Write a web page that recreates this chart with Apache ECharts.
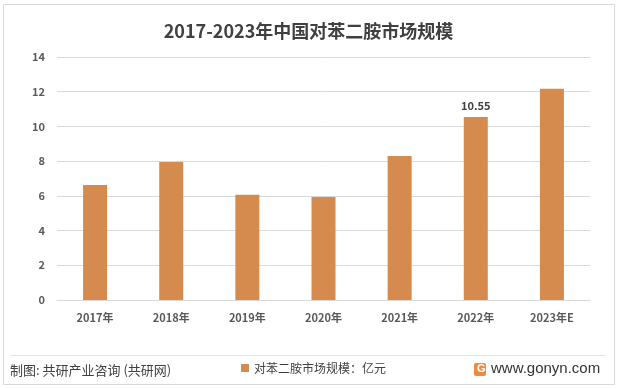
<!DOCTYPE html>
<html><head><meta charset="utf-8">
<script src="https://cdn.jsdelivr.net/npm/echarts@6/dist/echarts.min.js"></script>
<style>html,body{margin:0;padding:0;background:#fff}#c{width:617px;height:389px}</style>
</head><body><div id="c"></div>
<script>
var categories = ['2017年','2018年','2019年','2020年','2021年','2022年','2023年E'];
var values = [6.62, 7.95, 6.06, 5.93, 8.3, 10.55, 12.17];
var labelIndex = 5;
var yTicks = {min:0, max:14, interval:2};
var seriesName = '对苯二胺市场规模：亿元';
var titleText = '2017-2023年中国对苯二胺市场规模';
var sourceText = '制图: 共研产业咨询 (共研网)';
var siteText = 'www.gonyn.com';

var font = '"Noto Sans CJK SC", "Noto Sans", sans-serif';
var chart = echarts.init(document.getElementById('c'));
chart.setOption({
  animation:false,
  title:{text:titleText,left:'center',top:17,textStyle:{fontFamily:font,fontSize:18,fontWeight:'bold',color:'#404040'}},
  grid:{left:57,right:27,top:57,bottom:89},
  legend:{data:[seriesName],left:236,top:357,itemWidth:8,itemHeight:8,itemGap:3,icon:'rect',
    textStyle:{fontFamily:font,fontSize:12,color:'#404040'}},
  xAxis:{type:'category',data:categories,
    axisLine:{lineStyle:{color:'#d9d9d9'}},axisTick:{show:false},
    axisLabel:{fontFamily:font,fontSize:11,fontWeight:'bold',color:'#595959',margin:12}},
  yAxis:{type:'value',min:yTicks.min,max:yTicks.max,interval:yTicks.interval,
    axisLine:{show:false},axisTick:{show:false},
    splitLine:{lineStyle:{color:'#d9d9d9'}},
    axisLabel:{fontFamily:font,fontSize:11,fontWeight:'bold',color:'#595959',margin:12}},
  series:[{name:seriesName,type:'bar',barWidth:24,itemStyle:{color:'#D48B4D'},
    data:values.map(function(v,i){return i===labelIndex?{value:v,label:{show:true,position:'top',distance:6,
      fontFamily:font,fontSize:11,fontWeight:'bold',color:'#404040',formatter:'{c}'}}:v;})}],
  graphic:[
    {type:'rect',shape:{x:3.5,y:4.5,width:611,height:380},style:{fill:null,stroke:'#d9d9d9',lineWidth:1},silent:true,z:-1},
    {type:'line',shape:{x1:10,y1:355.5,x2:606,y2:355.5},style:{stroke:'#e3e3e3',lineWidth:1}},
    {type:'text',left:10,top:364,style:{text:sourceText,font:'13px '+font,fill:'#404040'}},
    {type:'rect',shape:{x:474,y:363,width:12,height:13,r:2},style:{fill:'#F08A3C'}},
    {type:'text',left:477,top:363,style:{text:'G',font:'bold 11px sans-serif',fill:'#fff'}},
    {type:'text',left:491,top:361,style:{text:siteText,font:'15px "Liberation Sans", Arial, sans-serif',fill:'#333'}}
  ]
});
</script></body></html>
